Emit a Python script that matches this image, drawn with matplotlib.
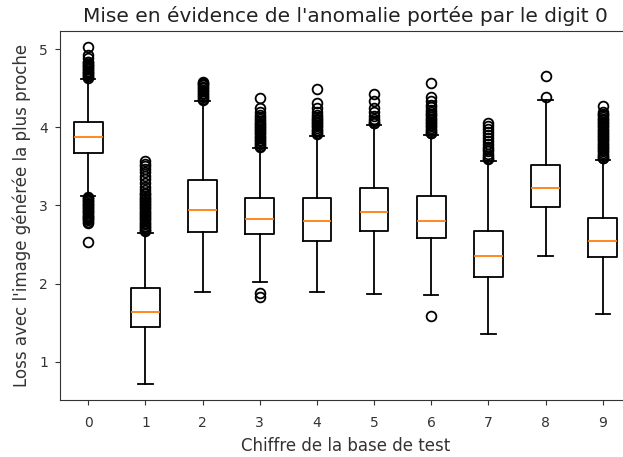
import matplotlib
matplotlib.use("Agg")
import matplotlib.pyplot as plt

# Digits of the test set
digits = ["0", "1", "2", "3", "4", "5", "6", "7", "8", "9"]

# Box statistics per digit (loss vs. closest generated image)
q1 = [3.67, 1.44, 2.66, 2.63, 2.54, 2.67, 2.58, 2.08, 2.98, 2.34]
medians = [3.87, 1.63, 2.94, 2.83, 2.80, 2.91, 2.80, 2.35, 3.22, 2.54]
q3 = [4.07, 1.94, 3.32, 3.09, 3.09, 3.22, 3.12, 2.67, 3.52, 2.84]
whisker_low = [3.12, 0.72, 1.89, 2.02, 1.89, 1.87, 1.85, 1.35, 2.35, 1.61]
whisker_high = [4.62, 2.65, 4.33, 3.74, 3.89, 4.03, 3.90, 3.57, 4.35, 3.58]

# Outliers per digit
fliers_0 = [5.03, 4.92, 4.88, 4.84, 4.83, 4.81, 4.80, 4.78, 4.77, 4.75,
            4.74, 4.72, 4.71, 4.69, 4.68, 4.66, 4.65, 4.63,
            3.11, 3.09, 3.08, 3.06, 3.05, 3.03, 3.02, 3.00, 2.99, 2.97,
            2.96, 2.94, 2.93, 2.91, 2.90, 2.88, 2.87, 2.85, 2.84, 2.82,
            2.81, 2.79, 2.78, 2.53]
fliers_1 = [3.57, 3.53, 3.50, 3.46, 3.43, 3.38, 3.34, 3.29, 3.24, 3.20,
            3.16, 3.14, 3.12, 3.10, 3.08, 3.06, 3.04, 3.02, 3.00, 2.98,
            2.96, 2.94, 2.92, 2.90, 2.88, 2.86, 2.84, 2.82, 2.80, 2.78,
            2.76, 2.74, 2.72, 2.70, 2.68, 2.67]
fliers_2 = [4.58, 4.57, 4.55, 4.54, 4.52, 4.50, 4.48, 4.46, 4.44, 4.42,
            4.40, 4.38, 4.36, 4.35]
fliers_3 = [4.37, 4.24, 4.20, 4.16, 4.13, 4.10, 4.08, 4.06, 4.04, 4.02,
            4.00, 3.98, 3.96, 3.94, 3.92, 3.90, 3.88, 3.86, 3.84, 3.82,
            3.80, 3.78, 3.76, 3.75, 1.88, 1.83]
fliers_4 = [4.49, 4.31, 4.25, 4.20, 4.16, 4.13, 4.11, 4.09, 4.07, 4.05,
            4.03, 4.01, 3.99, 3.97, 3.95, 3.93, 3.91]
fliers_5 = [4.42, 4.33, 4.25, 4.20, 4.14, 4.10, 4.08, 4.06, 4.05]
fliers_6 = [4.57, 4.39, 4.34, 4.29, 4.26, 4.22, 4.19, 4.17, 4.15, 4.13,
            4.11, 4.09, 4.07, 4.05, 4.03, 4.01, 3.99, 3.97, 3.95, 3.93,
            3.92, 1.59]
fliers_7 = [4.06, 4.02, 3.98, 3.94, 3.90, 3.86, 3.82, 3.78, 3.75, 3.72,
            3.69, 3.66, 3.63, 3.61, 3.59]
fliers_8 = [4.66, 4.38]
fliers_9 = [4.27, 4.20, 4.17, 4.15, 4.13, 4.11, 4.09, 4.07, 4.05, 4.03,
            4.01, 3.99, 3.97, 3.95, 3.93, 3.91, 3.89, 3.87, 3.85, 3.83,
            3.81, 3.79, 3.77, 3.75, 3.73, 3.71, 3.69, 3.67, 3.65, 3.63,
            3.61, 3.60]
fliers = [fliers_0, fliers_1, fliers_2, fliers_3, fliers_4,
          fliers_5, fliers_6, fliers_7, fliers_8, fliers_9]

stats = []
for i, name in enumerate(digits):
    stats.append({
        "label": name,
        "q1": q1[i],
        "med": medians[i],
        "q3": q3[i],
        "whislo": whisker_low[i],
        "whishi": whisker_high[i],
        "fliers": fliers[i],
    })

W, H = 623, 457
fig = plt.figure(figsize=(W / 100, H / 100), dpi=100)
ax = fig.add_axes([59.7 / W, (H - 400) / H, (631.3 - 59.7) / W, (400 - 30.5) / H])

ax.bxp(stats, showfliers=True,
       boxprops=dict(color="black", linewidth=1.3),
       whiskerprops=dict(color="black", linewidth=1.3),
       capprops=dict(color="black", linewidth=1.3),
       medianprops=dict(color="#ff7f0e", linewidth=1.3),
       flierprops=dict(marker="o", markerfacecolor="none",
                       markeredgecolor="black", markersize=7,
                       markeredgewidth=1.3))

ax.set_ylim(0.51, 5.237)
ax.set_yticks([1, 2, 3, 4, 5])
ax.tick_params(labelsize=10, colors="#333333")
ax.tick_params(axis="x", pad=8)
ax.tick_params(axis="y", pad=4.8)
for s in ax.spines.values():
    s.set_color("#333333")

ax.set_title("Mise en évidence de l'anomalie portée par le digit 0",
             fontsize=14.5, color="#222222")
ax.set_xlabel("Chiffre de la base de test", fontsize=12, color="#333333",
              labelpad=5)
ax.set_ylabel("Loss avec l'image générée la plus proche", fontsize=12,
              color="#333333", labelpad=6)

fig.savefig("out.png", dpi=100)
